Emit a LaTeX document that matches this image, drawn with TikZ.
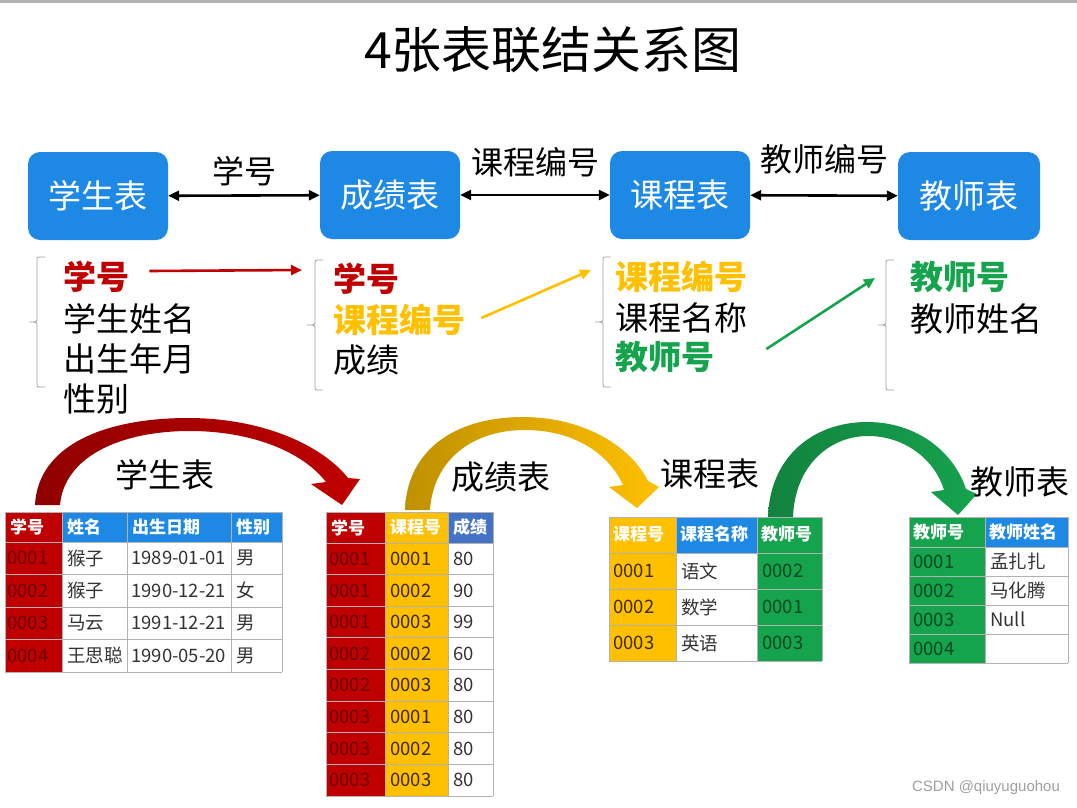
\documentclass[tikz,border=0pt]{standalone}
\usepackage{fontspec}
\setmainfont{Noto Sans CJK SC}
\newfontfamily\wmfont{Liberation Sans}
\usetikzlibrary{arrows.meta,positioning}

\definecolor{boxblue}{RGB}{30,136,229}
\definecolor{hdblue}{RGB}{68,114,196}
\definecolor{keyred}{RGB}{192,0,0}
\definecolor{keyyel}{RGB}{255,192,0}
\definecolor{keygrn}{RGB}{22,163,78}
\definecolor{txred}{RGB}{105,0,0}
\definecolor{txyel}{RGB}{60,42,0}
\definecolor{txgrn}{RGB}{0,72,30}

\begin{document}
\begin{tikzpicture}[x=1pt,y=-1pt]
\tikzset{
  tbl/.style={rectangle, rounded corners=12pt, fill=boxblue, text=white,
    minimum width=140pt, minimum height=88pt, font=\fontsize{33}{33}\selectfont},
  link/.style={{Triangle[length=11pt,width=10pt]}-{Triangle[length=11pt,width=10pt]}, line width=2.6pt},
  lbl/.style={font=\fontsize{32}{32}\selectfont},
  fld/.style={anchor=west, inner sep=0pt, font=\fontsize{33}{33}\selectfont},
  key/.style={fld, font=\fontsize{33}{33}\selectfont\bfseries},
  brc/.style={gray!75, line width=0.8pt},
  pt/.style={-{Triangle[length=11pt,width=10pt]}, line width=2.6pt},
  hd/.style={anchor=west, inner sep=0pt, text=white, font=\fontsize{17}{17}\selectfont\bfseries},
  cell/.style={anchor=west, inner sep=0pt, text=black!80, font=\fontsize{18.5}{18.5}\selectfont},
  grid/.style={black!30, line width=0.8pt},
  big/.style={font=\fontsize{33}{33}\selectfont}
}
\useasboundingbox (0,0) rectangle (1077,807);
\fill[gray!60] (0,0) rectangle (1077,2.5);
% ---------- title ----------
\node[font=\fontsize{50}{50}\selectfont] (title) at (553,50) {4张表联结关系图};
% ---------- the four tables ----------
\node[tbl] (st) at (98,196) {学生表};
\node[tbl] (cj) at (390,195) {成绩表};
\node[tbl] (kc) at (680,195) {课程表};
\node[tbl, minimum width=142pt] (js) at (969,196) {教师表};
\draw[link] (st) -- (cj) node[lbl, midway, above=5pt] {学号};
\draw[link] (cj) -- (kc) node[lbl, midway, above=13pt] {课程编号};
\draw[link] (kc) -- (js) node[lbl, midway, above=17pt] {教师编号};
% ---------- field lists ----------
\foreach \bx/\by in {37/322, 315/325, 603/322, 886/325}
  \draw[brc, shift={(\bx,\by)}] (8,-65) -- (3,-65) .. controls (0,-65) .. (0,-62)
    -- (0,-4) .. controls (0,0) .. (-8,0) .. controls (0,0) .. (0,4)
    -- (0,62) .. controls (0,65) .. (3,65) -- (8,65);
\node[key, text=keyred] (s1) at (63,277) {学号};
\node[fld] (s2) at (63,319) {学生姓名};
\node[fld] (s3) at (63,359) {出生年月};
\node[fld] (s4) at (63,399) {性别};
\node[key, text=keyred] (c1) at (333,279) {学号};
\node[key, text=keyyel] (c2) at (333,320) {课程编号};
\node[fld] (c3) at (333,360) {成绩};
\node[key, text=keyyel] (k1) at (615,277) {课程编号};
\node[fld] (k2) at (615,318) {课程名称};
\node[key, text=keygrn] (k3) at (615,357) {教师号};
\node[key, text=keygrn] (j1) at (910,277) {教师号};
\node[fld] (j2) at (910,319) {教师姓名};
\coordinate (rEnd) at (302,270);
\coordinate (yEnd) at (591,270);
\coordinate (gEnd) at (875,278);
\draw[pt, keyred] (s1.east) ++(20,-6) -- (rEnd);
\draw[pt, keyyel] (c2.east) ++(16,-2) -- (yEnd);
\draw[pt, keygrn] (k3.east) ++(52,-8) -- (gEnd);
% ---------- curved arrows ----------
\shade[left color=keyred!75!black, right color=keyred]
  (35,505) .. controls (38,445) and (105,418) .. (188,418)
  .. controls (262,418) and (322,445) .. (348,478) -- (360,479) -- (342,505)
  -- (311,484) -- (326,482) .. controls (303,452) and (252,431) .. (190,431)
  .. controls (118,431) and (64,458) .. (60,505) -- cycle;
\shade[left color=keyyel!75!black, right color=keyyel]
  (405,510) .. controls (407,450) and (455,417) .. (523,417)
  .. controls (582,417) and (630,445) .. (648,481) -- (659,487) -- (637,508)
  -- (609,487) -- (623,485) .. controls (608,452) and (572,430) .. (525,430)
  .. controls (470,430) and (433,462) .. (430,510) -- cycle;
\shade[left color=keygrn!80!black, right color=keygrn]
  (768,517) .. controls (770,455) and (815,422) .. (867,422)
  .. controls (920,422) and (955,455) .. (966,489) -- (977,494) -- (958,515)
  -- (931,492) -- (944,490) .. controls (935,460) and (905,436) .. (868,436)
  .. controls (830,436) and (795,465) .. (793,517) -- cycle;
\node[big] (l1) at (165,475) {学生表};
\node[big] (l2) at (501,477) {成绩表};
\node[big] (l3) at (710,474) {课程表};
\node[big] (l4) at (1020,482) {教师表};
% ---------- (1) students ----------
\fill[keyred] (5,512) rectangle (62,672);
\fill[boxblue] (62,512) rectangle (282,542);
\foreach \y in {512,542,574.5,607,639.5,672} \draw[grid] (5,\y) -- (282,\y);
\foreach \x in {5,62,127,231,282} \draw[grid] (\x,512) -- (\x,672);
\foreach \x/\t [count=\i] in {5/学号,62/姓名,127/出生日期,231/性别}
  \node[hd] (t1-h\i) at (\x+5,527) {\t};
\foreach \ka/\kb/\kc/\kd [count=\r] in {0001/猴子/1989-01-01/男,0002/猴子/1990-12-21/女,
    0003/马云/1991-12-21/男,0004/王思聪/1990-05-20/男} {
  \pgfmathsetmacro\ry{542+32.5*(\r-0.5)}
  \node[cell, text=txred] (t1-\r-a) at (7,\ry) {\ka};
  \node[cell] (t1-\r-b) at (67,\ry) {\kb};
  \node[cell] (t1-\r-c) at (131,\ry) {\kc};
  \node[cell] (t1-\r-d) at (236,\ry) {\kd};
}
% ---------- (2) scores ----------
\fill[keyred] (326,512) rectangle (385,796);
\fill[keyyel] (385,512) rectangle (448,796);
\fill[hdblue] (448,512) rectangle (493,543);
\foreach \r in {0,...,8} \draw[grid] (326,543+31.625*\r) -- (493,543+31.625*\r);
\draw[grid] (326,512) -- (493,512);
\foreach \x in {326,385,448,493} \draw[grid] (\x,512) -- (\x,796);
\foreach \x/\t [count=\i] in {326/学号,385/课程号,448/成绩}
  \node[hd] (t2-h\i) at (\x+5,527.5) {\t};
\foreach \ka/\kb/\kc [count=\r] in {0001/0001/80,0001/0002/90,0001/0003/99,0002/0002/60,
    0002/0003/80,0003/0001/80,0003/0002/80,0003/0003/80} {
  \pgfmathsetmacro\ry{543+31.625*(\r-0.5)}
  \node[cell, text=txred] (t2-\r-a) at (329,\ry) {\ka};
  \node[cell, text=txyel] (t2-\r-b) at (390,\ry) {\kb};
  \node[cell] (t2-\r-c) at (453,\ry) {\kc};
}
% ---------- (3) courses ----------
\fill[keyyel] (609,517) rectangle (676,661);
\fill[boxblue] (676,517) rectangle (757,553);
\fill[keygrn] (757,517) rectangle (822,661);
\foreach \y in {517,553,589,625,661} \draw[grid] (609,\y) -- (822,\y);
\foreach \x in {609,676,757,822} \draw[grid] (\x,517) -- (\x,661);
\foreach \x/\t [count=\i] in {609/课程号,676/课程名称,757/教师号}
  \node[hd] (t3-h\i) at (\x+4,534) {\t};
\foreach \ka/\kb/\kc [count=\r] in {0001/语文/0002,0002/数学/0001,0003/英语/0003} {
  \pgfmathsetmacro\ry{553+36*(\r-0.5)}
  \node[cell, text=txyel] (t3-\r-a) at (613,\ry) {\ka};
  \node[cell] (t3-\r-b) at (681,\ry) {\kb};
  \node[cell, text=txgrn] (t3-\r-c) at (762,\ry) {\kc};
}
% ---------- (4) teachers ----------
\fill[keygrn] (909,517) rectangle (985,663);
\fill[boxblue] (985,517) rectangle (1068,547);
\foreach \y in {517,547,576,605,634,663} \draw[grid] (909,\y) -- (1068,\y);
\foreach \x in {909,985,1068} \draw[grid] (\x,517) -- (\x,663);
\foreach \x/\t [count=\i] in {909/教师号,985/教师姓名}
  \node[hd] (t4-h\i) at (\x+4,532) {\t};
\foreach \ka/\kb [count=\r] in {0001/孟扎扎,0002/马化腾,0003/Null,0004/{}} {
  \pgfmathsetmacro\ry{547+29*(\r-0.5)}
  \node[cell, text=txgrn] (t4-\r-a) at (913,\ry) {\ka};
  \node[cell] (t4-\r-b) at (990,\ry) {\kb};
}
% ---------- mark ----------
\node[font=\wmfont\fontsize{15}{15}\selectfont, text=gray!75] (mark) at (986,788) {CSDN @qiuyuguohou};
\end{tikzpicture}
\end{document}
